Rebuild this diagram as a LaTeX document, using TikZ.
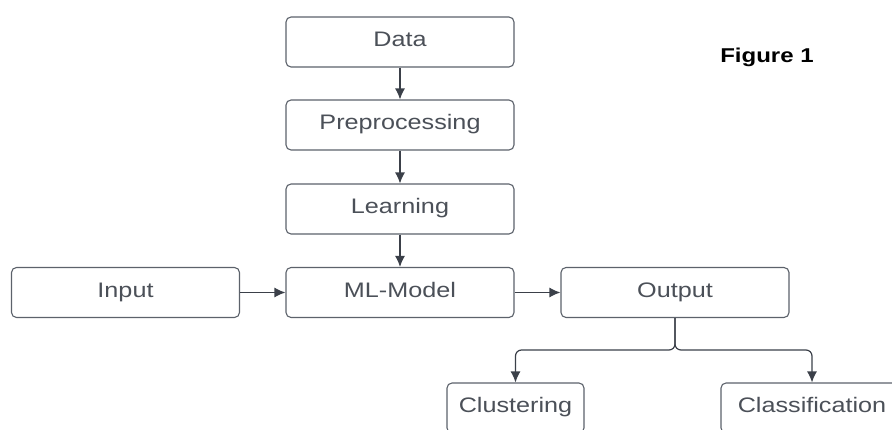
\documentclass[tikz,border=0pt]{standalone}
\usepackage{fontspec}
\setmainfont[FakeStretch=1.2]{Liberation Sans}
\usetikzlibrary{arrows.meta}

\definecolor{boxgray}{HTML}{5C626B}
\definecolor{labelgray}{HTML}{4B5058}
\definecolor{arrowgray}{HTML}{3B4049}

\tikzset{
	box/.style={draw=boxgray, line width=1.1pt, rounded corners=5pt, fill=white,
		minimum width=228pt, minimum height=50pt, inner sep=0pt,
		text height=15pt, text depth=5pt,
		text=labelgray, font=\fontsize{21}{24}\selectfont},
	link/.style={draw=arrowgray, line width=1.2pt, -{Latex[length=11pt,width=10pt]}},
}

\begin{document}
\begin{tikzpicture}[x=1pt,y=-1pt]
		\clip (0,0) rectangle (892,430);
		
		% the main column
		\node[box] (data) at (400,42) {Data};
		\node[box] (prep) at (400,125) {Preprocessing};
		\node[box] (learn) at (400,209) {Learning};
		\node[box] (model) at (400,292.5) {ML-Model};
		
		% input and output beside the model
		\node[box] (input) at (125.5,292.5) {Input};
		\node[box] (output) at (675,292.5) {Output};
		
		% the two kinds of output, cut off at the bottom
		\node[box, minimum width=137pt] (clust) at (515.5,408) {Clustering};
		\node[box, minimum width=182pt] (class) at (812,408) {Classification};
		
		\node[font=\fontsize{20}{24}\selectfont\bfseries, text=black] (fig) at (767,57) {Figure 1};
		
		\draw [link] (data) -- (prep);
		\draw [link] (prep) -- (learn);
		\draw [link] (learn) -- (model);
		\draw [link] (input) -- (model);
		\draw [link] (model) -- (output);
		
		% split below the output
		\coordinate (split) at (675,350);
		\draw [link, rounded corners=6pt] (output.south) -- (split) -| (clust.north);
		\draw [link, rounded corners=6pt] (output.south) -- (split) -| (class.north);
	\end{tikzpicture}
\end{document}
